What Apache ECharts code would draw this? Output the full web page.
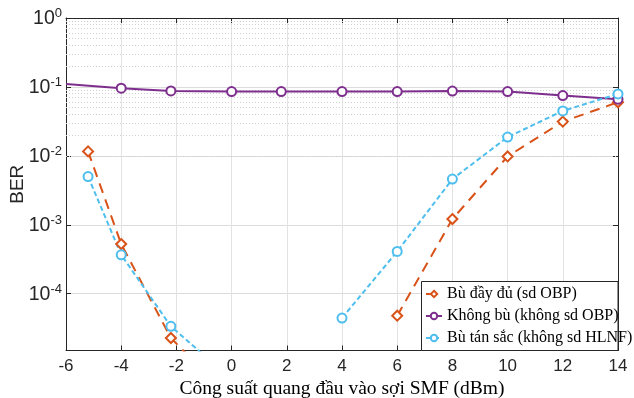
<!DOCTYPE html>
<html>
<head>
<meta charset="utf-8">
<script src="https://cdn.jsdelivr.net/npm/echarts@6/dist/echarts.min.js"></script>
<style>
  html, body { margin: 0; padding: 0; background: #fff; }
  #chart { width: 634px; height: 398px; }
</style>
</head>
<body>
<div id="chart"></div>
<script>
// số liệu
const xTicks = [-6, -4, -2, 0, 2, 4, 6, 8, 10, 12, 14];

const fullX = [-5.2, -4, -2.2, 0, 4, 6, 8, 10, 12, 14];
const fullBer = [0.0116, 5.25e-4, 2.28e-5, 2.9e-6, null, 4.8e-5, 1.21e-3, 9.8e-3, 0.0314, 0.060];

const noneX = [-6, -4, -2.2, 0, 1.8, 4, 6, 8, 10, 12, 14];
const noneBer = [0.110, 0.0958, 0.0875, 0.0855, 0.0855, 0.0855, 0.0855, 0.087, 0.0855, 0.0748, 0.0663];

const cdX = [-5.2, -4, -2.2, 0, 2, 4, 6, 8, 10, 12, 14];
const cdBer = [5.0e-3, 3.67e-4, 3.36e-5, 5.7e-6, null, 4.44e-5, 4.1e-4, 4.6e-3, 0.0187, 0.0449, 0.0792];

const seriesNames = ['Bù đầy đủ (sd OBP)', 'Không bù (không sd OBP)', 'Bù tán sắc (không sd HLNF)'];

const yMin = 1.5e-5, yMax = 1;
const axisColor = '#262626';

function pairs(xs, ys) {
  return xs.map(function (x, i) { return [x, ys[i] === null ? '-' : ys[i]]; });
}

// đường lưới phụ 2..9 x 10^k
let minorLines = [];
for (let k = -5; k < 0; k++) {
  for (let m = 2; m <= 9; m++) {
    let v = m * Math.pow(10, k);
    if (v > yMin && v < yMax) minorLines.push({ yAxis: v });
  }
}

function isPow10(v) {
  let e = Math.log10(v);
  return Math.abs(e - Math.round(e)) < 1e-6;
}

let chart = echarts.init(document.getElementById('chart'));
chart.setOption({
  animation: false,
  backgroundColor: '#fff',
  grid: { left: 66, right: 16, top: 18, bottom: 47.5, show: false, containLabel: false, outerBoundsMode: 'none' },
  legend: {
    orient: 'vertical',
    left: 425, top: 285,
    itemWidth: 16, itemHeight: 8, itemGap: 4,
    padding: 0,
    textStyle: { fontFamily: 'Liberation Serif', fontSize: 16, color: '#000', lineHeight: 18 },
    data: seriesNames
  },
  graphic: [{
    type: 'rect', z: 3,
    shape: { x: 421.5, y: 281.5, width: 196.5, height: 69 },
    style: { fill: '#fff', stroke: axisColor, lineWidth: 1 }
  }],
  xAxis: [{
    type: 'value', min: -6, max: 14, interval: 2,
    name: 'Công suất quang đầu vào sợi SMF (dBm)',
    nameLocation: 'middle', nameGap: 28.5, nameMoveOverlap: false,
    nameTextStyle: { fontFamily: 'Liberation Serif', fontSize: 19.5, color: '#000' },
    axisLine: { show: true, onZero: false, lineStyle: { color: axisColor, width: 1 } },
    axisTick: { show: true, inside: true, length: 5, lineStyle: { color: axisColor } },
    axisLabel: { fontFamily: 'Liberation Sans', fontSize: 17, color: axisColor, margin: 7,
      formatter: function (v) { return xTicks.indexOf(v) >= 0 ? String(v) : ''; } },
    splitLine: { show: true, lineStyle: { color: '#e3e3e3', width: 1 } }
  }, {
    type: 'value', min: -6, max: 14, interval: 2, position: 'top',
    axisLine: { show: true, onZero: false, lineStyle: { color: axisColor, width: 1 } },
    axisTick: { show: true, inside: true, length: 5, lineStyle: { color: axisColor } },
    axisLabel: { show: false },
    splitLine: { show: false }
  }],
  yAxis: [{
    type: 'log', logBase: 10, min: yMin, max: yMax,
    name: 'BER', nameLocation: 'middle', nameGap: 39, nameRotate: 90, nameMoveOverlap: false,
    nameTextStyle: { fontFamily: 'Liberation Sans', fontSize: 19, color: axisColor },
    axisLine: { show: true, onZero: false, lineStyle: { color: axisColor, width: 1 } },
    axisTick: { show: true, inside: true, length: 5, lineStyle: { color: axisColor } },
    axisLabel: {
      margin: 4, color: axisColor,
      formatter: function (v) {
        if (!isPow10(v)) return '';
        return '{b|10}{s|' + Math.round(Math.log10(v)) + '}';
      },
      rich: {
        b: { fontFamily: 'Liberation Sans', fontSize: 19.5, color: axisColor, verticalAlign: 'bottom', lineHeight: 22 },
        s: { fontFamily: 'Liberation Sans', fontSize: 13, color: axisColor, verticalAlign: 'top', lineHeight: 22, padding: [0, 0, 11, 0] }
      }
    },
    splitLine: { show: true, lineStyle: { color: '#dcdcdc', width: 1 } }
  }, {
    type: 'log', logBase: 10, min: yMin, max: yMax, position: 'right',
    axisLine: { show: true, onZero: false, lineStyle: { color: axisColor, width: 1 } },
    axisTick: { show: true, inside: true, length: 5, lineStyle: { color: axisColor } },
    axisLabel: { show: false },
    splitLine: { show: false }
  }],
  series: [{
    name: seriesNames[0], type: 'line', z: 2,
    data: pairs(fullX, fullBer),
    symbol: 'diamond', symbolSize: 10,
    lineStyle: { color: '#D95319', width: 2, type: [10, 7] },
    itemStyle: { color: '#fff', borderColor: '#D95319', borderWidth: 2 }
  }, {
    name: seriesNames[1], type: 'line', z: 2,
    data: pairs(noneX, noneBer).map(function (d, i) {
      return i === 0 ? { value: d, symbol: 'none' } : d;
    }),
    symbol: 'circle', symbolSize: 9,
    lineStyle: { color: '#7E2F8E', width: 2 },
    itemStyle: { color: '#fff', borderColor: '#7E2F8E', borderWidth: 2 },
    markLine: {
      silent: true, symbol: 'none', z: 1,
      label: { show: false },
      lineStyle: { color: '#d0d0d0', width: 1, type: [1, 2] },
      data: minorLines
    }
  }, {
    name: seriesNames[2], type: 'line', z: 2,
    data: pairs(cdX, cdBer),
    symbol: 'circle', symbolSize: 9,
    lineStyle: { color: '#4DBEEE', width: 2, type: [5, 3] },
    itemStyle: { color: '#fff', borderColor: '#4DBEEE', borderWidth: 2 }
  }]
});
</script>
</body>
</html>
